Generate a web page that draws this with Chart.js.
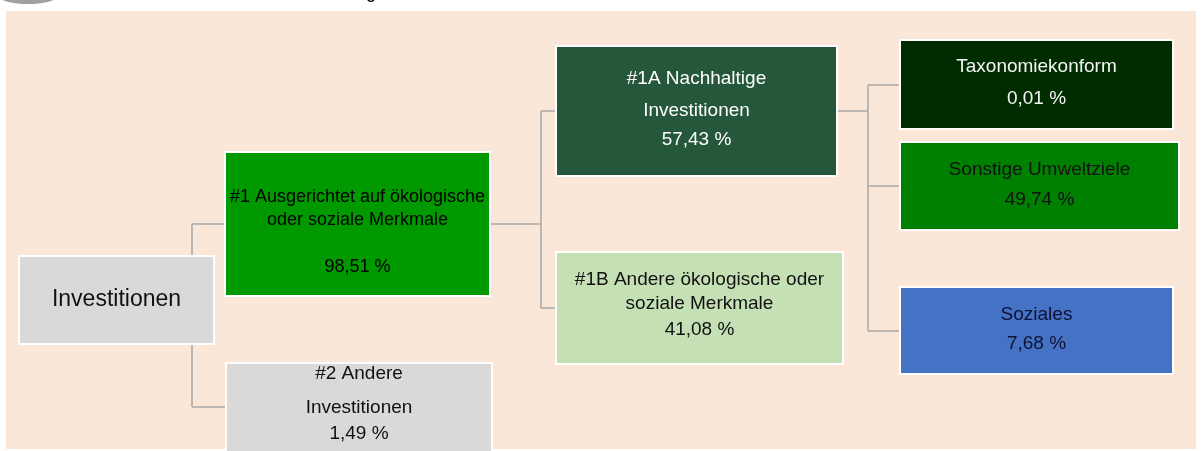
<!DOCTYPE html>
<html lang="de">
<head>
<meta charset="UTF-8">
<title>Investitionen</title>
<script src="https://cdn.jsdelivr.net/npm/chart.js"></script>
<style>
  html, body { margin: 0; padding: 0; background: #fff; }
  canvas { display: block; }
</style>
</head>
<body>
<canvas id="baum" width="1204" height="451"></canvas>
<script>
// Daten: Knoten des Baums
const knoten = ['Investitionen', '#1', '#2', '#1A', '#1B', 'Taxonomiekonform', 'Sonstige Umweltziele', 'Soziales'];
const zeilen = [
  ['Investitionen'],
  ['#1 Ausgerichtet auf ökologische', 'oder soziale Merkmale', ''],
  ['#2 Andere', 'Investitionen'],
  ['#1A Nachhaltige', 'Investitionen'],
  ['#1B Andere ökologische oder', 'soziale Merkmale'],
  ['Taxonomiekonform'],
  ['Sonstige Umweltziele'],
  ['Soziales']
];
const anteile = [null, 98.51, 1.49, 57.43, 41.08, 0.01, 49.74, 7.68];
const eltern = [-1, 0, 0, 1, 1, 3, 3, 3];

// Layout (Positionen in Achsen-Einheiten) und Stil
const boxen = [
  { x0: 20,  y0: 257, x1: 213,  y1: 343, fill: '#d9d9d9', text: '#111', size: 23, ys: [300] },
  { x0: 226, y0: 153, x1: 489,  y1: 295, fill: '#009900', text: '#000', size: 18, ys: [197, 220, 244, 267] },
  { x0: 227, y0: 364, x1: 491,  y1: 458, fill: '#d9d9d9', text: '#111', size: 19, ys: [374, 408, 434] },
  { x0: 557, y0: 47,  x1: 836,  y1: 175, fill: '#25573a', text: '#fff', size: 19, ys: [79, 111, 140] },
  { x0: 557, y0: 253, x1: 842,  y1: 363, fill: '#c5e0b4', text: '#111', size: 19, ys: [280, 304, 330] },
  { x0: 901, y0: 41,  x1: 1172, y1: 128, fill: '#002d00', text: '#f4f4f4', size: 19, ys: [67, 99] },
  { x0: 901, y0: 143, x1: 1178, y1: 229, fill: '#008000', text: '#111', size: 19, ys: [170, 200] },
  { x0: 901, y0: 288, x1: 1172, y1: 373, fill: '#4472c4', text: '#111133', size: 19, ys: [315, 344] }
];
const stamm = { 0: 192, 1: 541, 3: 868 };
const verbindungsFarbe = '#a8a8a8';

function prozent(v) {
  return v.toFixed(2).replace('.', ',') + ' %';
}
function mitteY(i) {
  return (boxen[i].y0 + Math.min(boxen[i].y1, 451)) / 2;
}

// Verbindungslinien als Datensätze
const linien = [];
Object.keys(stamm).forEach(k => {
  const p = +k;
  const sx = stamm[p];
  const kinder = eltern.map((e, i) => e === p ? i : -1).filter(i => i >= 0);
  const kys = kinder.map(i => i === 2 ? 407 : Math.round(mitteY(i)));
  const py = p === 0 ? null : Math.round(mitteY(p));
  if (py !== null) linien.push([{ x: boxen[p].x1, y: py }, { x: sx, y: py }]);
  linien.push([{ x: sx, y: Math.min(...kys) }, { x: sx, y: Math.max(...kys) }]);
  kinder.forEach((c, j) => linien.push([{ x: sx, y: kys[j] }, { x: boxen[c].x0, y: kys[j] }]));
});

const baumPlugin = {
  id: 'baum',
  beforeDraw(chart) {
    const { ctx, scales: { x, y } } = chart;
    ctx.save();
    ctx.fillStyle = '#ffffff';
    ctx.fillRect(0, 0, chart.width, chart.height);
    // Reste der Überschrift
    ctx.fillStyle = '#a0a0a0';
    ctx.beginPath();
    ctx.ellipse(x.getPixelForValue(28), y.getPixelForValue(-3), 28, 7, 0, 0, Math.PI * 2);
    ctx.fill();
    ctx.fillStyle = '#000';
    ctx.font = '18px "Liberation Sans"';
    ctx.textAlign = 'center';
    ctx.textBaseline = 'alphabetic';
    ctx.fillText('g', x.getPixelForValue(371), y.getPixelForValue(-2));
    // Hintergrundfläche
    ctx.fillStyle = '#fae7d7';
    const px0 = x.getPixelForValue(6), px1 = x.getPixelForValue(1196);
    const py0 = y.getPixelForValue(11), py1 = y.getPixelForValue(449);
    ctx.fillRect(px0, py0, px1 - px0, py1 - py0);
    ctx.restore();
  },
  afterDatasetsDraw(chart) {
    const { ctx, scales: { x, y } } = chart;
    ctx.save();
    boxen.forEach((b, i) => {
      const bx0 = x.getPixelForValue(b.x0), bx1 = x.getPixelForValue(b.x1);
      const by0 = y.getPixelForValue(b.y0), by1 = y.getPixelForValue(b.y1);
      ctx.fillStyle = b.fill;
      ctx.fillRect(bx0, by0, bx1 - bx0, by1 - by0);
      ctx.strokeStyle = '#ffffff';
      ctx.lineWidth = 2;
      ctx.strokeRect(bx0 - 1, by0 - 1, bx1 - bx0 + 2, by1 - by0 + 2);

      const txt = zeilen[i].slice();
      if (anteile[i] !== null) txt.push(prozent(anteile[i]));
      ctx.fillStyle = b.text;
      ctx.font = b.size + 'px "Liberation Sans"';
      ctx.textAlign = 'center';
      ctx.textBaseline = 'middle';
      const cx = (bx0 + bx1) / 2;
      txt.forEach((t, j) => {
        if (t) ctx.fillText(t, cx, y.getPixelForValue(b.ys[j]));
      });
    });
    ctx.restore();
  }
};

new Chart(document.getElementById('baum'), {
  type: 'scatter',
  data: {
    datasets: linien.map(seg => ({
      data: seg,
      showLine: true,
      borderColor: verbindungsFarbe,
      borderWidth: 1.5,
      pointRadius: 0,
      fill: false
    }))
  },
  options: {
    responsive: false,
    animation: false,
    devicePixelRatio: 1,
    layout: { padding: 0 },
    plugins: { legend: { display: false }, tooltip: { enabled: false } },
    scales: {
      x: { type: 'linear', min: 0, max: 1204, display: false },
      y: { type: 'linear', min: 0, max: 451, reverse: true, display: false }
    }
  },
  plugins: [baumPlugin]
});
</script>
</body>
</html>
